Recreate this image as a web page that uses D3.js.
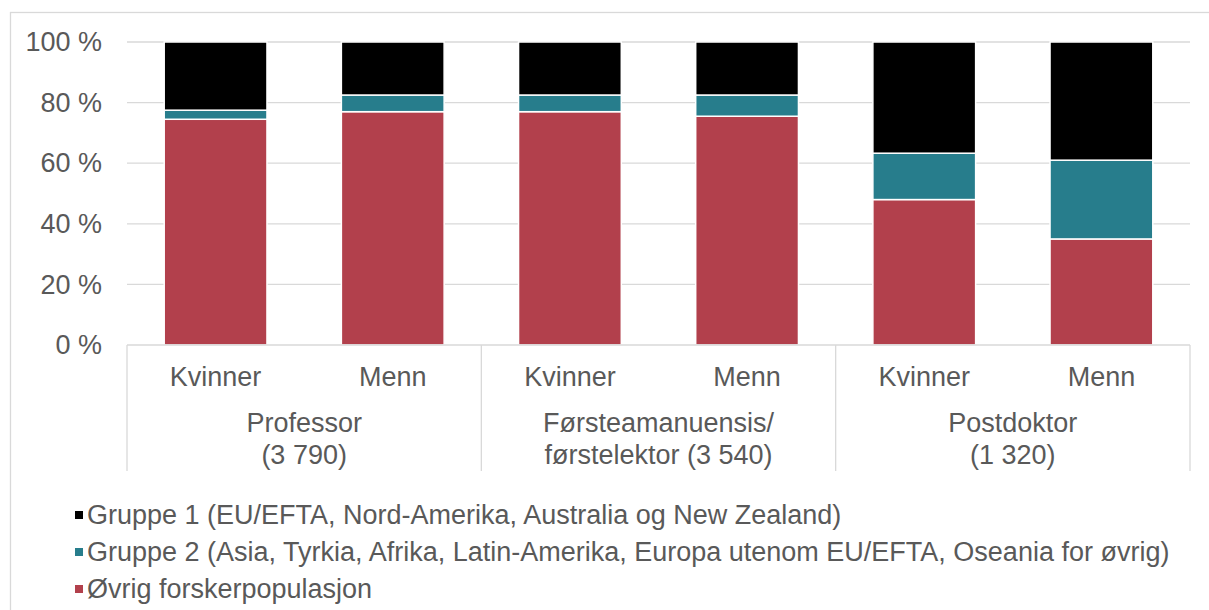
<!DOCTYPE html>
<html>
<head>
<meta charset="utf-8">
<script src="https://d3js.org/d3.v7.min.js"></script>
<style>
  body { margin: 0; background: #fff; }
  text { font-family: "Liberation Sans", Arial, sans-serif; fill: #595959; }
</style>
</head>
<body>
<div id="chart"></div>
<script>
// Data (percent)
let roles = ["Professor", "Førsteamanuensis/", "Postdoktor"];
let roleSub = ["(3 790)", "førstelektor (3 540)", "(1 320)"];
let genders = ["Kvinner", "Menn"];
let gruppe1 = [22.5, 17.5, 17.5, 17.5, 36.7, 39];
let gruppe2 = [3, 5.5, 5.5, 7, 15.3, 26];
let ovrig = [74.5, 77, 77, 75.5, 48, 35];
let yTicks = [0, 20, 40, 60, 80, 100];
let seriesNames = [
    "Gruppe 1 (EU/EFTA, Nord-Amerika, Australia og New Zealand)",
    "Gruppe 2 (Asia, Tyrkia, Afrika, Latin-Amerika, Europa utenom EU/EFTA, Oseania for øvrig)",
    "Øvrig forskerpopulasjon"
];
let colors = ["#000000", "#277D8C", "#B2404C"];

let svgWidth = 1209;
let svgHeight = 610;
let fontSize = 27;

let margin = { top: 42, left: 127, right: 19 };
let plotBottom = 345;
let width = svgWidth - margin.left - margin.right;

let svg = d3.select('#chart')
    .append('svg')
    .attr('width', svgWidth)
    .attr('height', svgHeight);

// outer chart border
svg.append('rect')
    .attr('x', 10.5)
    .attr('y', 12.5)
    .attr('width', svgWidth)
    .attr('height', svgHeight)
    .attr('fill', 'none')
    .attr('stroke', '#D9D9D9')
    .attr('stroke-width', 1.3);

// build rows for stacking (one per bar)
let bars = [];
roles.forEach(function(r, i) {
    genders.forEach(function(g, j) {
        let k = i * 2 + j;
        bars.push({ key: k, role: i, gender: g, s0: ovrig[k], s1: gruppe2[k], s2: gruppe1[k] });
    });
});

let x = d3.scaleBand()
    .domain(bars.map(d => d.key))
    .range([margin.left, margin.left + width])
    .paddingInner(0.42)
    .paddingOuter(0.21);

let y = d3.scaleLinear()
    .domain([0, 100])
    .range([plotBottom, margin.top]);

// gridlines
svg.append('g')
    .selectAll('line')
    .data(yTicks.filter(d => d > 0))
    .enter()
    .append('line')
    .attr('x1', margin.left)
    .attr('x2', margin.left + width)
    .attr('y1', d => y(d))
    .attr('y2', d => y(d))
    .attr('stroke', '#D9D9D9')
    .attr('stroke-width', 1.3);

// y axis labels
let leftAxis = d3.axisLeft(y)
    .tickValues(yTicks)
    .tickFormat(d => d + ' %')
    .tickSize(0)
    .tickPadding(25);

let yAxis = svg.append('g')
    .attr('transform', `translate(${margin.left},0)`)
    .call(leftAxis);
yAxis.select('.domain').remove();
yAxis.selectAll('text')
    .attr('font-size', fontSize)
    .attr('fill', '#595959')
    .attr('font-family', '"Liberation Sans", Arial, sans-serif');

// stacked bars: Øvrig at bottom, then Gruppe 2, then Gruppe 1
let stack = d3.stack().keys(['s0', 's1', 's2']);
let layers = stack(bars);
let layerColors = [colors[2], colors[1], colors[0]];

svg.append('g')
    .selectAll('g')
    .data(layers)
    .enter()
    .append('g')
    .attr('fill', (d, i) => layerColors[i])
    .selectAll('rect')
    .data(d => d)
    .enter()
    .append('rect')
    .attr('x', d => x(d.data.key))
    .attr('width', x.bandwidth())
    .attr('y', d => y(d[1]))
    .attr('height', d => y(d[0]) - y(d[1]))
    .attr('stroke', '#ffffff')
    .attr('stroke-width', 1.5);

// category axis line and group separators
let step = x.step();
svg.append('line')
    .attr('x1', margin.left)
    .attr('x2', margin.left + width)
    .attr('y1', plotBottom)
    .attr('y2', plotBottom)
    .attr('stroke', '#D9D9D9')
    .attr('stroke-width', 1.3);

svg.append('g')
    .selectAll('line')
    .data(d3.range(roles.length + 1))
    .enter()
    .append('line')
    .attr('x1', d => margin.left + d * step * 2)
    .attr('x2', d => margin.left + d * step * 2)
    .attr('y1', plotBottom)
    .attr('y2', 471)
    .attr('stroke', '#D9D9D9')
    .attr('stroke-width', 1.3);

// gender labels
svg.append('g')
    .selectAll('text')
    .data(bars)
    .enter()
    .append('text')
    .attr('x', d => x(d.key) + x.bandwidth() / 2)
    .attr('y', 386)
    .attr('text-anchor', 'middle')
    .attr('font-size', fontSize)
    .text(d => d.gender);

// role labels (two lines)
let roleLabels = svg.append('g')
    .selectAll('text')
    .data(roles)
    .enter()
    .append('text')
    .attr('text-anchor', 'middle')
    .attr('font-size', fontSize);

roleLabels.append('tspan')
    .attr('x', (d, i) => margin.left + (i * 2 + 1) * step)
    .attr('y', 432)
    .text(d => d);
roleLabels.append('tspan')
    .attr('x', (d, i) => margin.left + (i * 2 + 1) * step)
    .attr('y', 464)
    .text((d, i) => roleSub[i]);

// legend
let legend = svg.append('g')
    .selectAll('g')
    .data(seriesNames)
    .enter()
    .append('g')
    .attr('transform', (d, i) => `translate(0, ${515 + i * 37})`);

legend.append('rect')
    .attr('x', 75)
    .attr('y', -4)
    .attr('width', 8)
    .attr('height', 8)
    .attr('fill', (d, i) => colors[i]);

legend.append('text')
    .attr('x', 87)
    .attr('y', 0)
    .attr('dy', '0.35em')
    .attr('font-size', fontSize)
    .text(d => d);
</script>
</body>
</html>
